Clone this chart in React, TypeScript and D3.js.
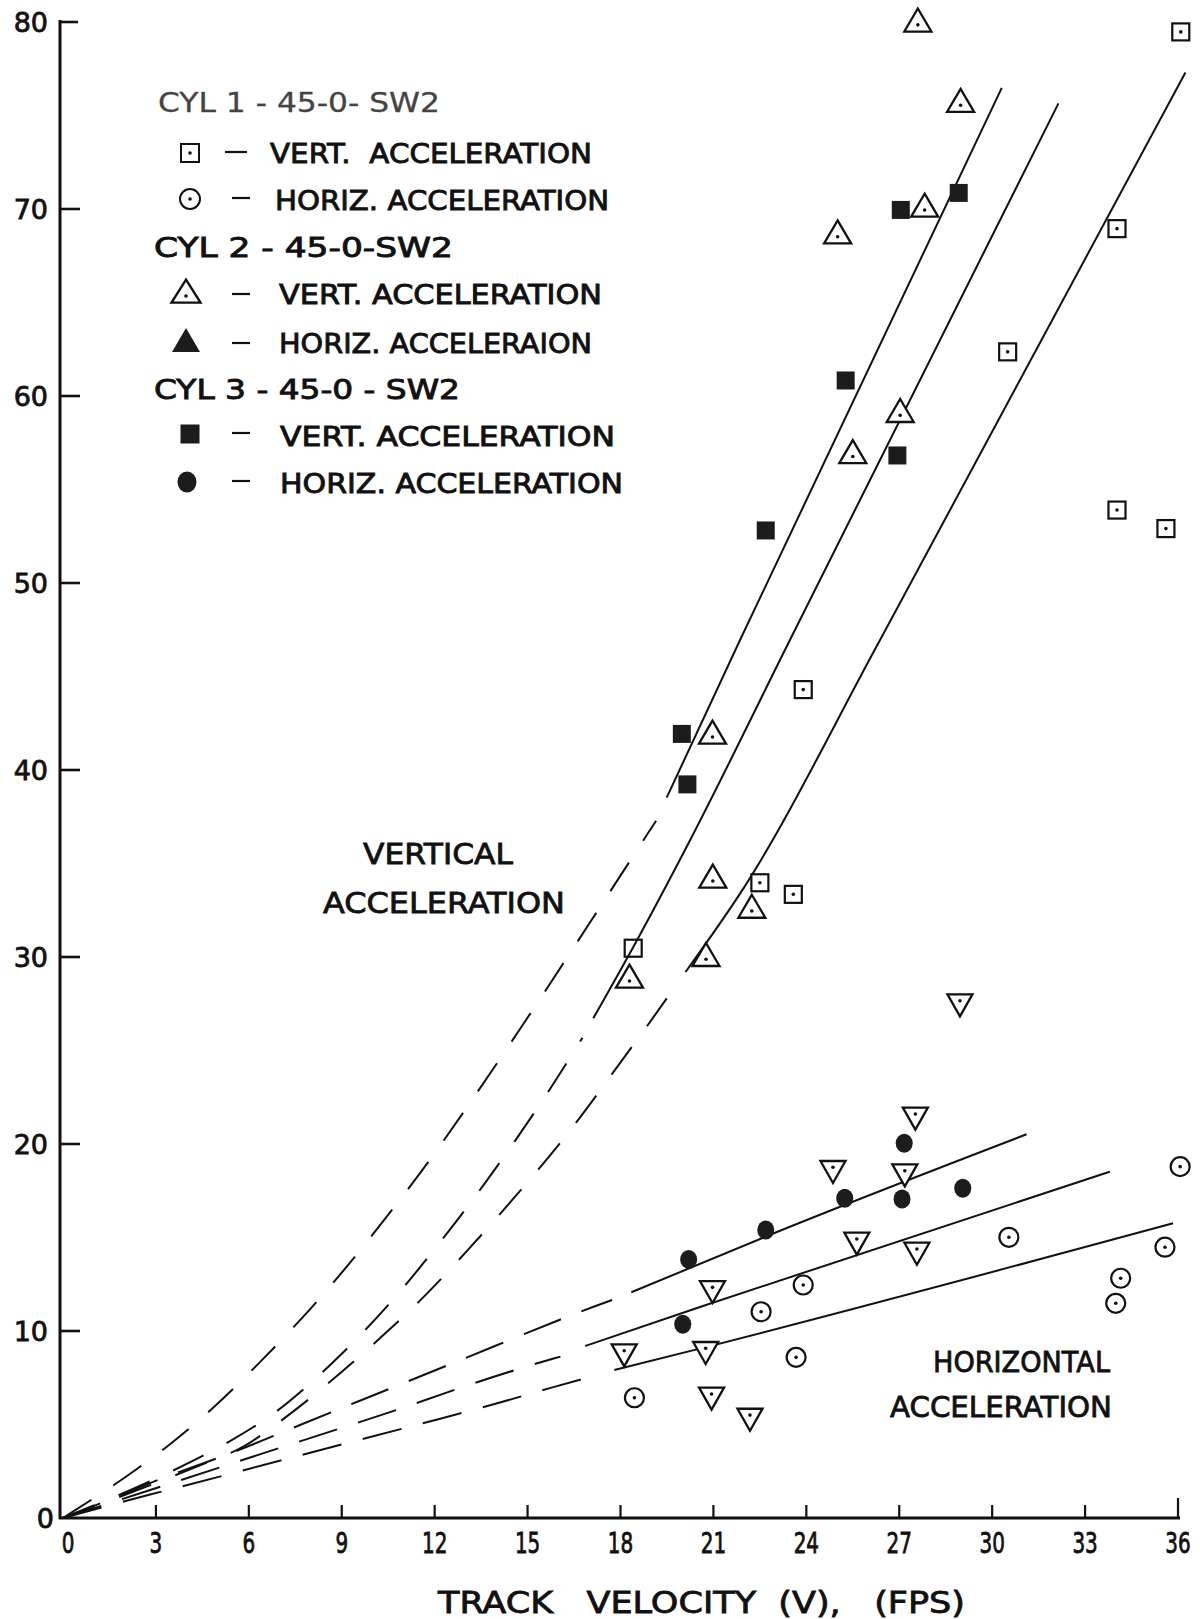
import React from 'react';
import * as d3 from 'd3';

// Axis ticks
const xTicks = [0, 3, 6, 9, 12, 15, 18, 21, 24, 27, 30, 33, 36];
const yTicks = [0, 10, 20, 30, 40, 50, 60, 70, 80];

// Measured points: [track velocity (fps), acceleration]
const cyl1Vert: [number, number][] = [
  [36.09, 79.47], [34.03, 68.95], [30.5, 62.36], [34.03, 53.9], [35.61, 52.91],
  [23.9, 44.3], [22.5, 33.97], [23.58, 33.35],
];
const cyl1VertPlain: [number, number][] = [[18.41, 30.47]];
const cyl1Horiz: [number, number][] = [
  [36.07, 18.79], [30.54, 15.01], [35.58, 14.48], [34.15, 12.82], [33.99, 11.48],
  [23.9, 12.46], [22.54, 11.03], [23.67, 8.59], [18.45, 6.43],
];
const cyl2Vert: [number, number][] = [
  [27.6, 79.9], [28.98, 75.6], [27.82, 70.0], [25.01, 68.57], [27.03, 59.02],
  [25.5, 56.82], [20.97, 41.82], [20.98, 34.12], [22.24, 32.51], [20.76, 29.93],
  [18.29, 28.77],
];
const cyl2Horiz: [number, number][] = [
  [28.96, 27.61], [27.52, 21.55], [24.86, 18.7], [27.18, 18.52], [25.63, 14.87],
  [27.57, 14.33], [20.97, 12.28], [18.12, 8.89], [20.75, 9.02], [20.94, 6.58],
  [22.18, 5.45],
];
const cyl3Vert: [number, number][] = [
  [28.92, 70.86], [27.05, 69.95], [25.27, 60.83], [26.94, 56.82], [22.69, 52.81],
  [19.98, 41.93], [20.16, 39.23],
];
const cyl3Horiz: [number, number][] = [
  [27.16, 20.04], [25.24, 17.1], [27.09, 17.06], [29.05, 17.63], [22.69, 15.4],
  [20.2, 13.83], [20.01, 10.36],
];

// Faired curves: extrapolated (dashed) part and fitted (solid) part
const vertFit1Dash: [number, number][] = [
  [0, 0], [1.92, 2.03], [3.53, 4.0], [4.87, 5.88], [6.28, 8.18], [8.02, 11.18],
  [9.43, 13.96], [10.7, 16.63], [12.13, 19.73], [14.73, 26.04], [17.09, 32.03],
  [19.15, 37.29],
];
const vertFit1Solid: [number, number][] = [[19.49, 38.52], [21.86, 46.95], [30.31, 76.48]];

const vertFit2Dash: [number, number][] = [
  [0, 0], [1.8, 1.2], [3.4, 2.4], [5.0, 3.7], [6.64, 5.33], [7.58, 6.58],
  [8.96, 8.66], [10.54, 11.39], [11.9, 14.15], [13.51, 17.58], [15.52, 22.35],
  [16.77, 25.68],
];
const vertFit2Solid: [number, number][] = [
  [17.12, 26.72], [18.4, 30.5], [20.25, 36.26], [23.47, 46.95], [32.14, 75.65],
];

const vertFit3Dash: [number, number][] = [
  [0, 0], [1.8, 1.1], [3.5, 2.2], [5.0, 3.2], [5.81, 3.73], [6.95, 5.06],
  [8.53, 7.11], [10.54, 10.05], [11.8, 12.02], [13.65, 15.37], [15.12, 18.17],
  [16.53, 21.0], [17.72, 23.74], [18.85, 26.27], [19.76, 28.41],
];
const vertFit3Solid: [number, number][] = [
  [20.1, 29.2], [21.97, 33.67], [26.38, 46.95], [36.24, 77.3],
];

const horizFit1Dash: [number, number][] = [
  [0, 0], [1.59, 1.02], [3.33, 2.25], [5.34, 3.37], [7.82, 5.1], [9.99, 6.54],
  [12.24, 8.04], [16.39, 10.86], [17.73, 11.66],
];
const horizFit1Solid: [number, number][] = [[18.35, 12.07], [23.07, 15.31], [31.11, 20.52]];

const horizFit2Dash: [number, number][] = [
  [0, 0], [4.0, 2.12], [6.61, 3.55], [9.02, 4.83], [10.97, 5.87], [12.84, 6.99],
  [14.92, 8.09], [16.06, 8.63],
];
const horizFit2Solid: [number, number][] = [[16.86, 9.2], [20.59, 11.3], [33.8, 18.52]];

const horizFit3Dash: [number, number][] = [
  [0, 0], [2.12, 0.96], [3.46, 1.53], [5.48, 2.39], [7.42, 3.25], [9.9, 4.32],
  [12.31, 5.36], [14.12, 6.17], [15.85, 7.02], [17.13, 7.59],
];
const horizFit3Solid: [number, number][] = [[17.8, 7.91], [20.59, 9.07], [35.84, 15.76]];

const FONT = "'DejaVu Sans', 'Liberation Sans', sans-serif";
const INK = '#111';

function upTri(cx: number, cy: number, w: number, h: number) {
  return `M${cx},${cy - (2 * h) / 3}L${cx + w / 2},${cy + h / 3}L${cx - w / 2},${cy + h / 3}Z`;
}
function downTri(cx: number, cy: number, w: number, h: number) {
  return `M${cx},${cy + (2 * h) / 3}L${cx + w / 2},${cy - h / 3}L${cx - w / 2},${cy - h / 3}Z`;
}

export default function App() {
  const x = d3.scaleLinear().domain([0, 36]).range([63, 1178]);
  const y = d3.scaleLinear().domain([0, 80]).range([1518, 22]);

  const smooth = d3
    .line<[number, number]>()
    .x((d) => x(d[0]))
    .y((d) => y(d[1]))
    .curve(d3.curveBasis);
  const through = d3
    .line<[number, number]>()
    .x((d) => x(d[0]))
    .y((d) => y(d[1]))
    .curve(d3.curveMonotoneX);

  const vertDash = [vertFit1Dash, vertFit2Dash, vertFit3Dash];
  const vertSolid = [vertFit1Solid, vertFit2Solid, vertFit3Solid];
  const horizDash = [horizFit1Dash, horizFit2Dash, horizFit3Dash];
  const horizSolid = [horizFit1Solid, horizFit2Solid, horizFit3Solid];

  const dot = (cx: number, cy: number, key: string) => (
    <circle key={key} cx={cx} cy={cy} r={1.8} fill={INK} />
  );

  const legendRows = [
    { kind: 'title', text: 'CYL 1 - 45-0- SW2', x: 158, base: 112, len: 282, light: true },
    { kind: 'openSquare', text: 'VERT.  ACCELERATION', sx: 190, sy: 153, x: 270, base: 163, len: 322 },
    { kind: 'openCircle', text: 'HORIZ. ACCELERATION', sx: 190, sy: 199, x: 275, base: 210, len: 334 },
    { kind: 'title', text: 'CYL 2 - 45-0-SW2', x: 154, base: 257, len: 299 },
    { kind: 'openTri', text: 'VERT. ACCELERATION', sx: 186, sy: 295, x: 279, base: 304, len: 323 },
    { kind: 'fillTri', text: 'HORIZ. ACCELERAION', sx: 186, sy: 344, x: 279, base: 353, len: 313 },
    { kind: 'title', text: 'CYL 3 - 45-0 - SW2', x: 154, base: 399, len: 306 },
    { kind: 'fillSquare', text: 'VERT. ACCELERATION', sx: 190, sy: 434, x: 280, base: 446, len: 335 },
    { kind: 'fillCircle', text: 'HORIZ. ACCELERATION', sx: 187, sy: 482, x: 280, base: 493, len: 343 },
  ];

  const bold = { stroke: INK, strokeWidth: 0.8 };

  return (
    <div style={{ position: 'absolute', left: 0, top: 0 }}>
      <svg width={1200} height={1619} viewBox="0 0 1200 1619" style={{ display: 'block', background: '#fff' }}>
        <rect x={0} y={0} width={1200} height={1619} fill="#fff" />

        {/* axes */}
        <line x1={60} y1={20} x2={60} y2={1519} stroke={INK} strokeWidth={3} />
        <line x1={59} y1={1518} x2={1180} y2={1518} stroke={INK} strokeWidth={3} />
        {yTicks.filter((t) => t > 0).map((t) => (
          <line key={`yt${t}`} x1={60} y1={y(t)} x2={t === 80 ? 78 : 80} y2={y(t)} stroke={INK} strokeWidth={2.6} />
        ))}
        {xTicks.filter((t) => t > 0).map((t) => (
          <line key={`xt${t}`} x1={x(t)} y1={1518} x2={x(t)} y2={t === 36 ? 1498 : 1505} stroke={INK} strokeWidth={2.2} />
        ))}
        {yTicks.map((t) => (
          <text key={`yl${t}`} x={t === 0 ? 54 : 48} y={y(t) + 10} fontSize={27} fontFamily={FONT}
            textAnchor="end" fill={INK} {...bold}>{t}</text>
        ))}
        {xTicks.map((t) => (
          <g key={`xl${t}`} transform={`translate(${t === 0 ? x(t) + 5 : x(t)},1553) scale(0.74,1.05)`}>
            <text x={0} y={0} fontSize={27} fontFamily={FONT} textAnchor="middle" fill={INK} {...bold}>{t}</text>
          </g>
        ))}
        <text x={438} y={1613} fontSize={30} fontFamily={FONT} fill={INK} textLength={527}
          lengthAdjust="spacingAndGlyphs" xmlSpace="preserve" {...bold}>TRACK   VELOCITY  (V),   (FPS)</text>

        {/* faired curves */}
        {vertDash.map((pts, i) => (
          <path key={`vd${i}`} d={smooth(pts) || ''} fill="none" stroke={INK} strokeWidth={2}
            strokeDasharray="34 26" />
        ))}
        {vertSolid.map((pts, i) => (
          <path key={`vs${i}`} d={through(pts) || ''} fill="none" stroke={INK} strokeWidth={2} />
        ))}
        {horizDash.map((pts, i) => (
          <path key={`hd${i}`} d={smooth(pts) || ''} fill="none" stroke={INK} strokeWidth={2}
            strokeDasharray="40 22" />
        ))}
        {horizSolid.map((pts, i) => (
          <path key={`hs${i}`} d={through(pts) || ''} fill="none" stroke={INK} strokeWidth={2} />
        ))}

        {/* CYL 1 vertical: open square with dot */}
        {cyl1Vert.map((d, i) => (
          <g key={`c1v${i}`}>
            <rect x={x(d[0]) - 8.5} y={y(d[1]) - 8.5} width={17} height={17} fill="#fff" stroke={INK} strokeWidth={2.2} />
            {dot(x(d[0]), y(d[1]), 'd')}
          </g>
        ))}
        {cyl1VertPlain.map((d, i) => (
          <rect key={`c1p${i}`} x={x(d[0]) - 8.5} y={y(d[1]) - 8.5} width={17} height={17} fill="none" stroke={INK} strokeWidth={2.2} />
        ))}
        {/* CYL 1 horizontal: open circle with dot */}
        {cyl1Horiz.map((d, i) => (
          <g key={`c1h${i}`}>
            <circle cx={x(d[0])} cy={y(d[1])} r={9.5} fill="#fff" stroke={INK} strokeWidth={2.2} />
            {dot(x(d[0]), y(d[1]), 'd')}
          </g>
        ))}
        {/* CYL 2 vertical: open triangle with dot */}
        {cyl2Vert.map((d, i) => (
          <g key={`c2v${i}`}>
            <path d={upTri(x(d[0]), y(d[1]), 27, 23)} fill="#fff" stroke={INK} strokeWidth={2.3} strokeLinejoin="miter" />
            {dot(x(d[0]), y(d[1]) + 1, 'd')}
          </g>
        ))}
        {/* CYL 2 horizontal: inverted open triangle with dot */}
        {cyl2Horiz.map((d, i) => (
          <g key={`c2h${i}`}>
            <path d={downTri(x(d[0]), y(d[1]), 25, 22)} fill="#fff" stroke={INK} strokeWidth={2.3} />
            {dot(x(d[0]), y(d[1]) - 1, 'd')}
          </g>
        ))}
        {/* CYL 3 vertical: filled square */}
        {cyl3Vert.map((d, i) => (
          <rect key={`c3v${i}`} x={x(d[0]) - 9} y={y(d[1]) - 9} width={18} height={18} fill="#1c1c1c" />
        ))}
        {/* CYL 3 horizontal: filled circle */}
        {cyl3Horiz.map((d, i) => (
          <ellipse key={`c3h${i}`} cx={x(d[0])} cy={y(d[1])} rx={8.5} ry={9.5} fill="#1c1c1c" />
        ))}

        {/* legend */}
        {legendRows.map((r, i) => (
          <g key={`lg${i}`}>
            {r.kind !== 'title' && (
              <line x1={r.kind === 'openSquare' ? 225 : 232} y1={(r.sy as number) - 1}
                x2={r.kind === 'openSquare' ? 247 : 250} y2={(r.sy as number) - 1} stroke={INK} strokeWidth={2.2} />
            )}
            {r.kind === 'openSquare' && (
              <g>
                <rect x={(r.sx as number) - 9} y={(r.sy as number) - 9} width={18} height={18} fill="#fff" stroke={INK} strokeWidth={2} />
                {dot(r.sx as number, r.sy as number, 'd')}
              </g>
            )}
            {r.kind === 'openCircle' && (
              <g>
                <circle cx={r.sx} cy={r.sy} r={10} fill="#fff" stroke={INK} strokeWidth={2} />
                {dot(r.sx as number, r.sy as number, 'd')}
              </g>
            )}
            {r.kind === 'openTri' && (
              <g>
                <path d={upTri(r.sx as number, r.sy as number, 29, 23)} fill="#fff" stroke={INK} strokeWidth={2.4} />
                {dot(r.sx as number, (r.sy as number) + 1, 'd')}
              </g>
            )}
            {r.kind === 'fillTri' && (
              <path d={upTri(r.sx as number, r.sy as number, 28, 24)} fill="#1c1c1c" />
            )}
            {r.kind === 'fillSquare' && (
              <rect x={(r.sx as number) - 9.5} y={(r.sy as number) - 9.5} width={19} height={19} fill="#1c1c1c" />
            )}
            {r.kind === 'fillCircle' && (
              <ellipse cx={r.sx} cy={r.sy} rx={9.5} ry={10.5} fill="#1c1c1c" />
            )}
            <text x={r.x} y={r.base} fontSize={27} fontFamily={FONT} fill={r.light ? '#444' : INK}
              stroke={r.light ? '#444' : INK} strokeWidth={r.light ? 0.3 : 0.9}
              textLength={r.len} lengthAdjust="spacingAndGlyphs" xmlSpace="preserve">{r.text}</text>
          </g>
        ))}

        {/* region labels */}
        <text x={363} y={864} fontSize={28} fontFamily={FONT} fill={INK} textLength={150}
          lengthAdjust="spacingAndGlyphs" {...bold}>VERTICAL</text>
        <text x={323} y={913} fontSize={28} fontFamily={FONT} fill={INK} textLength={242}
          lengthAdjust="spacingAndGlyphs" {...bold}>ACCELERATION</text>
        <text x={933} y={1372} fontSize={28} fontFamily={FONT} fill={INK} textLength={177}
          lengthAdjust="spacingAndGlyphs" {...bold}>HORIZONTAL</text>
        <text x={890} y={1417} fontSize={28} fontFamily={FONT} fill={INK} textLength={222}
          lengthAdjust="spacingAndGlyphs" {...bold}>ACCELERATION</text>
      </svg>
    </div>
  );
}
